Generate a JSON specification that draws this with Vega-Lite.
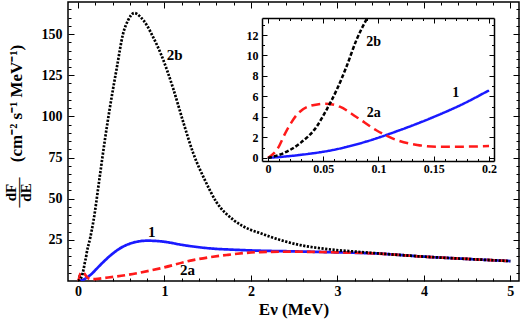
{
  "$schema": "https://vega.github.io/schema/vega-lite/v6.json",
  "autosize": {"type": "none"},
  "padding": {"left": 68, "top": 2, "right": 3, "bottom": 48},
  "width": 451,
  "height": 279,
  "config": {
    "font": "Liberation Serif",
    "view": {"stroke": "black", "strokeWidth": 1.5},
    "axis": {"domain": false, "grid": false, "labelFont": "Liberation Serif", "labelFontWeight": "bold", "labelColor": "black", "tickColor": "black", "tickWidth": 1, "titleFont": "Liberation Serif", "titleFontWeight": "bold", "titleColor": "black", "labelOverlap": false, "labelFlush": false, "domainColor": "black", "domainWidth": 1.5}
  },
  "datasets": {
    "curves": [
      {"s": "1", "E": 0, "F": 0}, {"s": "1", "E": 0.029, "F": 0.29}, {"s": "1", "E": 0.059, "F": 0.78}, {"s": "1", "E": 0.089, "F": 1.6}, {"s": "1", "E": 0.119, "F": 2.7}, {"s": "1", "E": 0.15, "F": 4.0}, {"s": "1", "E": 0.177, "F": 5.3}, {"s": "1", "E": 0.2, "F": 6.6}, {"s": "1", "E": 0.29, "F": 11.4}, {"s": "1", "E": 0.37, "F": 15.3}, {"s": "1", "E": 0.45, "F": 18.6}, {"s": "1", "E": 0.6, "F": 22.7}, {"s": "1", "E": 0.8, "F": 24.5}, {"s": "1", "E": 0.99, "F": 23.9}, {"s": "1", "E": 1.22, "F": 21.8}, {"s": "1", "E": 1.53, "F": 19.8}, {"s": "1", "E": 1.8, "F": 19.0}, {"s": "1", "E": 2.11, "F": 18.4}, {"s": "1", "E": 2.5, "F": 18.0}, {"s": "1", "E": 2.99, "F": 17.4}, {"s": "1", "E": 3.46, "F": 16.7}, {"s": "1", "E": 4.0, "F": 14.8}, {"s": "1", "E": 4.5, "F": 13.4}, {"s": "1", "E": 5.0, "F": 12.1},
      {"s": "2a", "E": 0, "F": 0}, {"s": "2a", "E": 0.008, "F": 0.78}, {"s": "2a", "E": 0.017, "F": 2.7}, {"s": "2a", "E": 0.026, "F": 4.2}, {"s": "2a", "E": 0.038, "F": 5.07}, {"s": "2a", "E": 0.052, "F": 5.3}, {"s": "2a", "E": 0.065, "F": 5.0}, {"s": "2a", "E": 0.08, "F": 4.0}, {"s": "2a", "E": 0.098, "F": 2.7}, {"s": "2a", "E": 0.116, "F": 1.76}, {"s": "2a", "E": 0.135, "F": 1.27}, {"s": "2a", "E": 0.153, "F": 1.1}, {"s": "2a", "E": 0.177, "F": 1.1}, {"s": "2a", "E": 0.2, "F": 1.17}, {"s": "2a", "E": 0.3, "F": 1.8}, {"s": "2a", "E": 0.56, "F": 3.6}, {"s": "2a", "E": 0.95, "F": 7.7}, {"s": "2a", "E": 1.33, "F": 12.7}, {"s": "2a", "E": 1.72, "F": 15.8}, {"s": "2a", "E": 2.11, "F": 17.6}, {"s": "2a", "E": 2.5, "F": 17.8}, {"s": "2a", "E": 2.99, "F": 17.4}, {"s": "2a", "E": 3.46, "F": 16.7}, {"s": "2a", "E": 4.0, "F": 14.8}, {"s": "2a", "E": 4.5, "F": 13.4}, {"s": "2a", "E": 5.0, "F": 12.1},
      {"s": "2b", "E": 0, "F": 0}, {"s": "2b", "E": 0.014, "F": 0.46}, {"s": "2b", "E": 0.029, "F": 1.43}, {"s": "2b", "E": 0.044, "F": 3.05}, {"s": "2b", "E": 0.053, "F": 4.7}, {"s": "2b", "E": 0.062, "F": 6.6}, {"s": "2b", "E": 0.071, "F": 8.9}, {"s": "2b", "E": 0.08, "F": 11.5}, {"s": "2b", "E": 0.089, "F": 13.5}, {"s": "2b", "E": 0.09, "F": 13.7}, {"s": "2b", "E": 0.1, "F": 17}, {"s": "2b", "E": 0.14, "F": 26}, {"s": "2b", "E": 0.18, "F": 37}, {"s": "2b", "E": 0.25, "F": 63}, {"s": "2b", "E": 0.31, "F": 85.5}, {"s": "2b", "E": 0.37, "F": 105.8}, {"s": "2b", "E": 0.45, "F": 130}, {"s": "2b", "E": 0.52, "F": 150}, {"s": "2b", "E": 0.58, "F": 158.5}, {"s": "2b", "E": 0.65, "F": 162.8}, {"s": "2b", "E": 0.72, "F": 160.5}, {"s": "2b", "E": 0.8, "F": 155}, {"s": "2b", "E": 0.87, "F": 148}, {"s": "2b", "E": 0.95, "F": 139}, {"s": "2b", "E": 1.03, "F": 128}, {"s": "2b", "E": 1.1, "F": 117}, {"s": "2b", "E": 1.22, "F": 96}, {"s": "2b", "E": 1.33, "F": 78}, {"s": "2b", "E": 1.47, "F": 61}, {"s": "2b", "E": 1.6, "F": 48}, {"s": "2b", "E": 1.8, "F": 37}, {"s": "2b", "E": 2.0, "F": 31}, {"s": "2b", "E": 2.11, "F": 29}, {"s": "2b", "E": 2.22, "F": 26.9}, {"s": "2b", "E": 2.34, "F": 24.9}, {"s": "2b", "E": 2.57, "F": 21.8}, {"s": "2b", "E": 2.8, "F": 19.9}, {"s": "2b", "E": 2.99, "F": 18.8}, {"s": "2b", "E": 3.2, "F": 17.9}, {"s": "2b", "E": 3.46, "F": 16.8}, {"s": "2b", "E": 3.75, "F": 15.7}, {"s": "2b", "E": 4.0, "F": 14.8}, {"s": "2b", "E": 4.5, "F": 13.4}, {"s": "2b", "E": 5.0, "F": 12.1}
    ],
    "mainLabels": [
      {"t": "2b", "E": 1.117, "F": 137},
      {"t": "1", "E": 0.853, "F": 29.7},
      {"t": "2a", "E": 1.267, "F": 6.7}
    ],
    "insetLabels": [
      {"t": "2b", "E": 0.0955, "F": 11.3},
      {"t": "2a", "E": 0.0957, "F": 4.4},
      {"t": "1", "E": 0.17, "F": 6.34}
    ]
  },
  "layer": [
    {
      "data": {"name": "curves"},
      "mark": {"type": "line", "clip": true, "strokeWidth": 2.7, "interpolate": "monotone"},
      "encoding": {
        "x": {"field": "E", "type": "quantitative", "scale": {"domain": [-0.116, 5.1], "nice": false, "zero": false},
          "axis": {"orient": "bottom", "values": [0, 1, 2, 3, 4, 5], "tickSize": -6, "format": "d",
            "labelFontSize": 14, "labelPadding": 9,
            "title": "Eν (MeV)", "titleFontSize": 17, "titleY": 33, "titleBaseline": "alphabetic"}},
        "y": {"field": "F", "type": "quantitative", "scale": {"domain": [0, 169.5], "nice": false, "zero": false},
          "axis": {"orient": "left", "values": [25, 50, 75, 100, 125, 150], "tickSize": -6, "format": "d",
            "labelFontSize": 14, "labelPadding": 12,
            "title": "(cm⁻² s⁻¹ MeV⁻¹)", "titleFontSize": 17, "titleAngle": -90, "titleX": -47, "titleY": 101, "titleAlign": "center", "titleBaseline": "alphabetic"}},
        "color": {"field": "s", "type": "nominal", "scale": {"domain": ["1", "2a", "2b"], "range": ["#1a1aff", "#ff1a1a", "#000000"]}, "legend": null},
        "strokeDash": {"field": "s", "type": "nominal", "scale": {"domain": ["1", "2a", "2b"], "range": [[1, 0], [8, 4], [2.2, 1.5]]}, "legend": null},
        "strokeWidth": {"field": "s", "type": "nominal", "scale": {"domain": ["1", "2a", "2b"], "range": [2.7, 2.7, 3]}, "legend": null}
      }
    },
    {
      "data": {"name": "curves"},
      "mark": {"type": "point", "opacity": 0, "clip": true},
      "encoding": {
        "x": {"field": "E", "type": "quantitative", "scale": {"domain": [-0.116, 5.1], "nice": false, "zero": false},
          "axis": {"orient": "top", "values": [0, 1, 2, 3, 4, 5], "tickSize": -6, "labels": false, "title": null}},
        "y": {"field": "F", "type": "quantitative", "scale": {"domain": [0, 169.5], "nice": false, "zero": false},
          "axis": {"orient": "right", "values": [25, 50, 75, 100, 125, 150], "tickSize": -6, "labels": false,
            "title": ["dF", "——", "dE"], "titleFontSize": 15, "titleLineHeight": 7.5, "titleAngle": -90, "titleX": -504, "titleY": 190, "titleAlign": "center", "titleBaseline": "alphabetic"}}
      }
    },
    {
      "data": {"name": "curves"},
      "mark": {"type": "point", "opacity": 0, "clip": true},
      "encoding": {
        "x": {"field": "E", "type": "quantitative", "scale": {"domain": [-0.116, 5.1], "nice": false, "zero": false},
          "axis": {"orient": "bottom", "values": [0.2, 0.4, 0.6, 0.8, 1.2, 1.4, 1.6, 1.8, 2.2, 2.4, 2.6, 2.8, 3.2, 3.4, 3.6, 3.8, 4.2, 4.4, 4.6, 4.8], "tickSize": -3, "labels": false, "title": null}},
        "y": {"field": "F", "type": "quantitative", "scale": {"domain": [0, 169.5], "nice": false, "zero": false},
          "axis": {"orient": "left", "values": [5, 10, 15, 20, 30, 35, 40, 45, 55, 60, 65, 70, 80, 85, 90, 95, 105, 110, 115, 120, 130, 135, 140, 145, 155, 160, 165], "tickSize": -3, "labels": false, "title": null}}
      }
    },
    {
      "data": {"name": "curves"},
      "mark": {"type": "point", "opacity": 0, "clip": true},
      "encoding": {
        "x": {"field": "E", "type": "quantitative", "scale": {"domain": [-0.116, 5.1], "nice": false, "zero": false},
          "axis": {"orient": "top", "values": [0.2, 0.4, 0.6, 0.8, 1.2, 1.4, 1.6, 1.8, 2.2, 2.4, 2.6, 2.8, 3.2, 3.4, 3.6, 3.8, 4.2, 4.4, 4.6, 4.8], "tickSize": -3, "labels": false, "title": null}},
        "y": {"field": "F", "type": "quantitative", "scale": {"domain": [0, 169.5], "nice": false, "zero": false},
          "axis": {"orient": "right", "values": [5, 10, 15, 20, 30, 35, 40, 45, 55, 60, 65, 70, 80, 85, 90, 95, 105, 110, 115, 120, 130, 135, 140, 145, 155, 160, 165], "tickSize": -3, "labels": false, "title": null}}
      }
    },
    {
      "data": {"name": "mainLabels"},
      "mark": {"type": "text", "font": "Liberation Serif", "fontWeight": "bold", "fontSize": 15, "color": "black"},
      "encoding": {
        "x": {"field": "E", "type": "quantitative", "scale": {"domain": [-0.116, 5.1], "nice": false, "zero": false}, "axis": null},
        "y": {"field": "F", "type": "quantitative", "scale": {"domain": [0, 169.5], "nice": false, "zero": false}, "axis": null},
        "text": {"field": "t", "type": "nominal"}
      }
    },
    {
      "data": {"name": "curves"},
      "transform": [{"filter": "datum.E <= 0.201 && datum.F <= 13.7"}],
      "mark": {"type": "line", "strokeWidth": 2.5, "interpolate": "monotone"},
      "encoding": {
        "x": {"field": "E", "type": "quantitative", "scale": {"domain": [-0.0054, 0.2045], "range": [194, 426], "nice": false, "zero": false},
          "axis": {"orient": "bottom", "offset": -120, "domain": true, "values": [0, 0.05, 0.1, 0.15, 0.2], "tickSize": -5, "format": "~g",
            "labelFontSize": 12, "labelPadding": 7, "title": null}},
        "y": {"field": "F", "type": "quantitative", "scale": {"domain": [-0.3, 13.66], "range": [159, 16], "nice": false, "zero": false},
          "axis": {"orient": "left", "offset": -194, "domain": true, "values": [0, 2, 4, 6, 8, 10, 12], "tickSize": -5, "format": "d",
            "labelFontSize": 12, "labelPadding": 9, "title": null}},
        "color": {"field": "s", "type": "nominal", "scale": {"domain": ["1", "2a", "2b"], "range": ["#1a1aff", "#ff1a1a", "#000000"]}, "legend": null},
        "strokeDash": {"field": "s", "type": "nominal", "scale": {"domain": ["1", "2a", "2b"], "range": [[1, 0], [9, 5], [4, 2]]}, "legend": null}
      }
    },
    {
      "data": {"name": "curves"},
      "transform": [{"filter": "datum.E <= 0.201 && datum.F <= 13.7"}],
      "mark": {"type": "point", "opacity": 0},
      "encoding": {
        "x": {"field": "E", "type": "quantitative", "scale": {"domain": [-0.0054, 0.2045], "range": [194, 426], "nice": false, "zero": false},
          "axis": {"orient": "top", "offset": -16, "domain": true, "values": [0, 0.05, 0.1, 0.15, 0.2], "tickSize": -5, "labels": false, "title": null}},
        "y": {"field": "F", "type": "quantitative", "scale": {"domain": [-0.3, 13.66], "range": [159, 16], "nice": false, "zero": false},
          "axis": {"orient": "right", "offset": -25, "domain": true, "values": [0, 2, 4, 6, 8, 10, 12], "tickSize": -5, "labels": false, "title": null}}
      }
    },
    {
      "data": {"name": "curves"},
      "transform": [{"filter": "datum.E <= 0.201 && datum.F <= 13.7"}],
      "mark": {"type": "point", "opacity": 0},
      "encoding": {
        "x": {"field": "E", "type": "quantitative", "scale": {"domain": [-0.0054, 0.2045], "range": [194, 426], "nice": false, "zero": false},
          "axis": {"orient": "bottom", "offset": -120, "values": [0.01, 0.02, 0.03, 0.04, 0.06, 0.07, 0.08, 0.09, 0.11, 0.12, 0.13, 0.14, 0.16, 0.17, 0.18, 0.19], "tickSize": -2.5, "labels": false, "title": null}},
        "y": {"field": "F", "type": "quantitative", "scale": {"domain": [-0.3, 13.66], "range": [159, 16], "nice": false, "zero": false},
          "axis": {"orient": "left", "offset": -194, "values": [1, 3, 5, 7, 9, 11, 13], "tickSize": -2.5, "labels": false, "title": null}}
      }
    },
    {
      "data": {"name": "curves"},
      "transform": [{"filter": "datum.E <= 0.201 && datum.F <= 13.7"}],
      "mark": {"type": "point", "opacity": 0},
      "encoding": {
        "x": {"field": "E", "type": "quantitative", "scale": {"domain": [-0.0054, 0.2045], "range": [194, 426], "nice": false, "zero": false},
          "axis": {"orient": "top", "offset": -16, "values": [0.01, 0.02, 0.03, 0.04, 0.06, 0.07, 0.08, 0.09, 0.11, 0.12, 0.13, 0.14, 0.16, 0.17, 0.18, 0.19], "tickSize": -2.5, "labels": false, "title": null}},
        "y": {"field": "F", "type": "quantitative", "scale": {"domain": [-0.3, 13.66], "range": [159, 16], "nice": false, "zero": false},
          "axis": {"orient": "right", "offset": -25, "values": [1, 3, 5, 7, 9, 11, 13], "tickSize": -2.5, "labels": false, "title": null}}
      }
    },
    {
      "data": {"name": "insetLabels"},
      "mark": {"type": "text", "font": "Liberation Serif", "fontWeight": "bold", "fontSize": 14, "color": "black"},
      "encoding": {
        "x": {"field": "E", "type": "quantitative", "scale": {"domain": [-0.0054, 0.2045], "range": [194, 426], "nice": false, "zero": false}, "axis": null},
        "y": {"field": "F", "type": "quantitative", "scale": {"domain": [-0.3, 13.66], "range": [159, 16], "nice": false, "zero": false}, "axis": null},
        "text": {"field": "t", "type": "nominal"}
      }
    }
  ],
  "resolve": {"scale": {"x": "independent", "y": "independent", "color": "independent", "strokeDash": "independent", "strokeWidth": "independent"}, "axis": {"x": "independent", "y": "independent"}}
}
